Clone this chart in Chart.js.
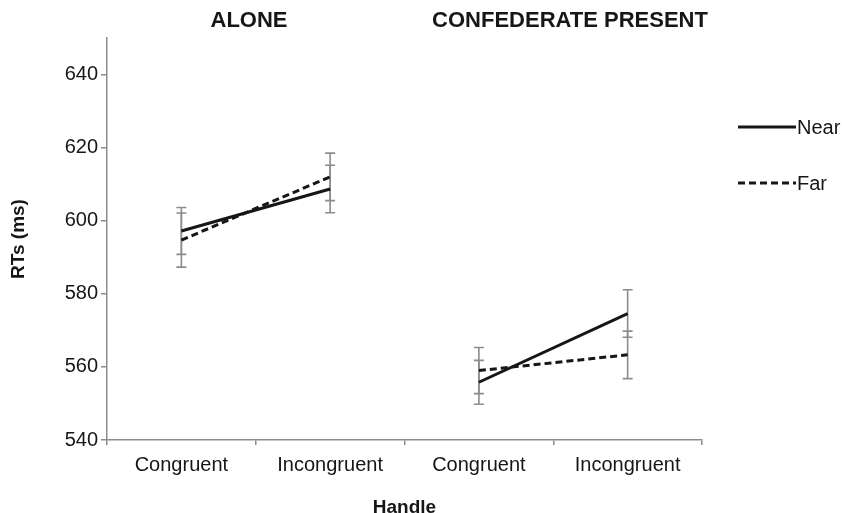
<!DOCTYPE html>
<html>
<head>
<meta charset="utf-8">
<script src="https://cdn.jsdelivr.net/npm/chart.js@4.4.1/dist/chart.umd.min.js"></script>
<style>
  html, body { margin: 0; padding: 0; background: #ffffff; }
  #c { display: block; }
</style>
</head>
<body>
<canvas id="c" width="842" height="513" style="width:842px;height:513px"></canvas>
<script>
// Mean reaction times (ms) per handle condition, two social contexts
const categories = ['Congruent', 'Incongruent', 'Congruent', 'Incongruent'];
const groupTitles = ['ALONE', 'CONFEDERATE PRESENT'];
const seriesNames = ['Near', 'Far'];
const nearRT = [597.2, 608.7, 555.8, 574.6];
const farRT = [594.7, 612.0, 559.0, 563.3];
const nearErr = [6.4, 6.5, 6.0, 6.5];
const farErr = [7.4, 6.5, 6.3, 6.5];
const yTicks = [540, 560, 580, 600, 620, 640];

const FONT = '"Liberation Sans", Arial, Helvetica, sans-serif';
const AXIS_GREY = '#8c8c8c';
const INK = '#161616';

// Error bars drawn beneath the lines
const errorBars = {
  id: 'errorBars',
  beforeDatasetsDraw(chart) {
    const { ctx, scales: { x, y } } = chart;
    ctx.save();
    ctx.strokeStyle = AXIS_GREY;
    ctx.lineWidth = 1.6;
    chart.data.datasets.forEach(ds => {
      ds.data.forEach((v, i) => {
        const e = ds.errors[i];
        const px = x.getPixelForValue(i);
        const top = y.getPixelForValue(v + e);
        const bot = y.getPixelForValue(v - e);
        ctx.beginPath();
        ctx.moveTo(px, top); ctx.lineTo(px, bot);
        ctx.moveTo(px - 5, top); ctx.lineTo(px + 5, top);
        ctx.moveTo(px - 5, bot); ctx.lineTo(px + 5, bot);
        ctx.stroke();
      });
    });
    ctx.restore();
  }
};

// Panel headings above each context
const panelTitles = {
  id: 'panelTitles',
  afterDraw(chart) {
    const { ctx } = chart;
    const centers = [249, 570];
    ctx.save();
    ctx.fillStyle = INK;
    ctx.font = 'bold 22px ' + FONT;
    ctx.textAlign = 'center';
    ctx.textBaseline = 'middle';
    groupTitles.forEach((t, i) => ctx.fillText(t, centers[i], 21));
    ctx.restore();
  }
};

// Line-style key on the right
const lineKey = {
  id: 'lineKey',
  afterDraw(chart) {
    const { ctx } = chart;
    const rows = [127, 183];
    ctx.save();
    chart.data.datasets.forEach((ds, i) => {
      const yy = rows[i];
      ctx.strokeStyle = ds.borderColor;
      ctx.lineWidth = ds.borderWidth;
      ctx.setLineDash(ds.borderDash || []);
      ctx.beginPath();
      ctx.moveTo(738, yy);
      ctx.lineTo(796, yy);
      ctx.stroke();
      ctx.setLineDash([]);
      ctx.fillStyle = INK;
      ctx.font = '20px ' + FONT;
      ctx.textAlign = 'left';
      ctx.textBaseline = 'middle';
      ctx.fillText(ds.label, 797, yy + 1);
    });
    ctx.restore();
  }
};

// Break the line between the two contexts
const splitGroups = ctx => (ctx.p0DataIndex === 1 ? 'rgba(0,0,0,0)' : undefined);

new Chart(document.getElementById('c'), {
  type: 'line',
  data: {
    labels: categories,
    datasets: [
      {
        label: seriesNames[0],
        data: nearRT,
        errors: nearErr,
        borderColor: INK,
        borderWidth: 3,
        borderDash: [],
        pointRadius: 0,
        tension: 0,
        segment: { borderColor: splitGroups }
      },
      {
        label: seriesNames[1],
        data: farRT,
        errors: farErr,
        borderColor: INK,
        borderWidth: 3,
        borderDash: [7, 4],
        pointRadius: 0,
        tension: 0,
        segment: { borderColor: splitGroups }
      }
    ]
  },
  options: {
    responsive: false,
    animation: false,
    events: [],
    layout: { padding: { top: 38, right: 140, bottom: 0, left: 0 } },
    plugins: {
      legend: { display: false },
      title: { display: false },
      tooltip: { enabled: false }
    },
    scales: {
      x: {
        type: 'category',
        offset: true,
        afterFit: s => { s.height = 73; },
        grid: {
          offset: true,
          drawOnChartArea: false,
          drawTicks: true,
          tickLength: 5,
          color: AXIS_GREY,
          lineWidth: 1.5
        },
        border: { color: AXIS_GREY, width: 1.5 },
        ticks: {
          color: INK,
          padding: 8,
          maxRotation: 0,
          font: { family: FONT, size: 20 }
        },
        title: {
          display: true,
          text: 'Handle',
          color: INK,
          font: { family: FONT, size: 19, weight: 'bold', lineHeight: 1 },
          padding: { top: 0, bottom: -4 }
        }
      },
      y: {
        min: 540,
        max: 650,
        afterFit: s => { s.width = 107; },
        afterBuildTicks: s => { s.ticks = yTicks.map(v => ({ value: v })); },
        grid: {
          drawOnChartArea: false,
          drawTicks: true,
          tickLength: 6,
          color: AXIS_GREY,
          lineWidth: 1.5
        },
        border: { color: AXIS_GREY, width: 1.5 },
        ticks: {
          color: INK,
          padding: 3,
          font: { family: FONT, size: 20 }
        },
        title: {
          display: true,
          text: 'RTs (ms)',
          color: INK,
          font: { family: FONT, size: 19, weight: 'bold', lineHeight: 1.2 },
          padding: { top: 7, bottom: 0 }
        }
      }
    }
  },
  plugins: [errorBars, panelTitles, lineKey]
});
</script>
</body>
</html>
